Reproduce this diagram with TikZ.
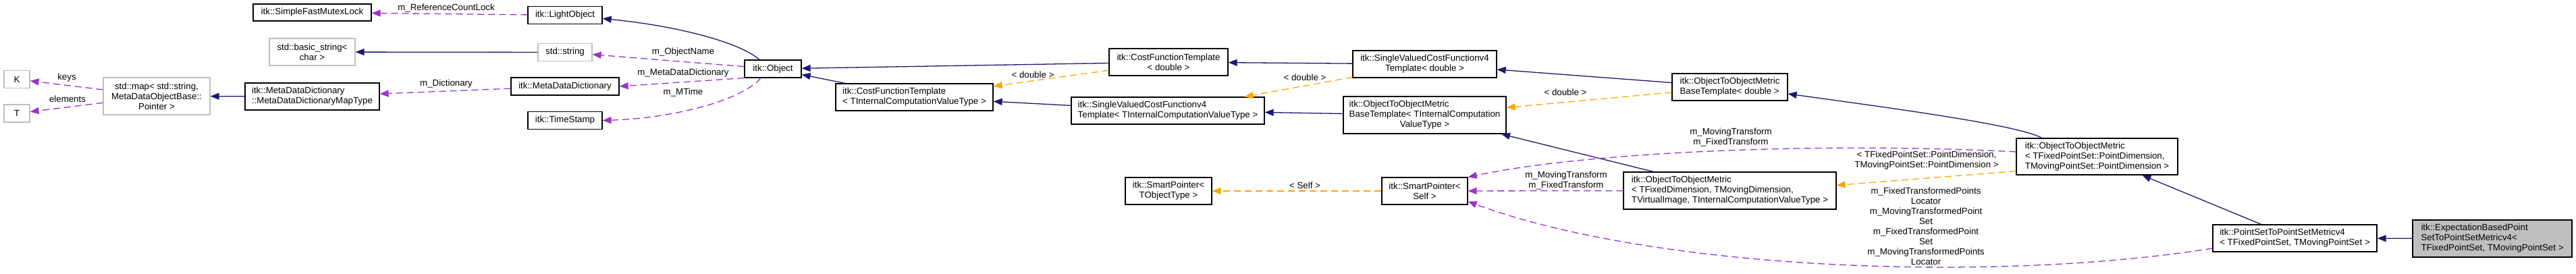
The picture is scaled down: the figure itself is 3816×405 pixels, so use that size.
\documentclass[tikz,border=0pt]{standalone}
\usepackage{fontspec}
\setmainfont{Liberation Sans}
\usetikzlibrary{arrows.meta}
\definecolor{midnightblue}{RGB}{25,25,112}
\definecolor{darkorchid}{RGB}{154,50,205}
\definecolor{doxorange}{RGB}{255,165,0}
\definecolor{boxgray}{RGB}{191,191,191}
\newcommand{\lastc}[1]{\multicolumn{1}{@{}c@{}}{#1}}
\tikzset{
  cls/.style={draw=black, line width=1.2pt, fill=white, inner sep=2pt,
    font=\fontsize{13.3}{15}\selectfont},
  ext/.style={cls, draw=boxgray},
  cur/.style={cls, fill=boxgray},
  lbl/.style={inner sep=0pt, align=center, font=\fontsize{13.3}{15}\selectfont},
  inh/.style={midnightblue, line width=1.3pt, -{Triangle[length=13pt,width=10pt]}},
  member/.style={darkorchid, line width=1.3pt, dash pattern=on 10pt off 6pt,
    -{Triangle[length=13pt,width=10pt]}},
  tpl/.style={doxorange, line width=1.3pt, dash pattern=on 10pt off 6pt,
    -{Triangle[length=13pt,width=10pt]}}
}

\begin{document}
\begin{tikzpicture}[x=1pt,y=-1pt]
    \useasboundingbox (0,0) rectangle (3816,405);
    \begin{scope}[shift={(0,0)}]
        \node[ext, minimum width=38, minimum height=26] (K) at (25,117.5) {K};
        \node[ext, minimum width=38, minimum height=26] (T) at (25,168) {T};
        \node[ext, minimum width=158, minimum height=55, align=center] (stdmap) at (232,142.5)
            {std::map\textless{} std::string,\\MetaDataObjectBase::\\Pointer \textgreater};

        \node[cls, minimum width=175, minimum height=25] (mutexlock) at (462.5,18.5) {itk::SimpleFastMutexLock};
        \node[ext, minimum width=127, minimum height=40, align=center] (basicstring) at (462.5,77)
            {std::basic\_string\textless\\char \textgreater};
        \node[cls, minimum width=199, minimum height=40, align=left] (maptype) at (462.5,143)
            {itk::MetaDataDictionary\\::MetaDataDictionaryMapType};

        \node[cls, minimum width=110, minimum height=26] (lightobject) at (837,22.5) {itk::LightObject};
        \node[ext, minimum width=80, minimum height=26] (stdstring) at (837,77.5) {std::string};
        \node[cls, minimum width=160, minimum height=26] (metadict) at (837,128) {itk::MetaDataDictionary};
        \node[cls, minimum width=110, minimum height=26] (timestamp) at (837,178.5) {itk::TimeStamp};

        \node[cls, minimum width=84, minimum height=26] (object) at (1145,102) {itk::Object};
        \node[cls, minimum width=233, minimum height=40, align=left] (cftint) at (1354.5,144)
            {itk::CostFunctionTemplate\\\textless{} TInternalComputationValueType \textgreater};

        \node[cls, minimum width=176, minimum height=40, align=center] (cftdbl) at (1731,92)
            {itk::CostFunctionTemplate\\\textless{} double \textgreater};
        \node[cls, minimum width=286, minimum height=40, align=left] (svcfint) at (1730,164)
            {itk::SingleValuedCostFunctionv4\\Template\textless{} TInternalComputationValueType \textgreater};
        \node[cls, minimum width=128, minimum height=40, align=center] (sptobj) at (1731,283)
            {itk::SmartPointer\textless\\TObjectType \textgreater};

        \node[cls, minimum width=213, minimum height=40, align=center] (svcfdbl) at (2110.5,95)
            {itk::SingleValuedCostFunctionv4\\Template\textless{} double \textgreater};
        \node[cls, minimum width=241, minimum height=55] (oombtint) at (2110.5,170.5)
            {\begin{tabular}{@{}l@{}}itk::ObjectToObjectMetric\\BaseTemplate\textless{} TInternalComputation\\
            \lastc{ValueType \textgreater}\end{tabular}};
        \node[cls, minimum width=127, minimum height=40, align=center] (spself) at (2110.5,283)
            {itk::SmartPointer\textless\\Self \textgreater};

        \node[cls, minimum width=171, minimum height=40, align=left] (oombtdbl) at (2562.5,129)
            {itk::ObjectToObjectMetric\\BaseTemplate\textless{} double \textgreater};
        \node[cls, minimum width=315, minimum height=55] (oomfd) at (2562.5,282.5)
            {\begin{tabular}{@{}l@{}}itk::ObjectToObjectMetric\\\textless{} TFixedDimension, TMovingDimension,\\
            \lastc{TVirtualImage, TInternalComputationValueType \textgreater}\end{tabular}};

        \node[cls, minimum width=239, minimum height=54] (oomps) at (3106.5,232)
            {\begin{tabular}{@{}l@{}}itk::ObjectToObjectMetric\\\textless{} TFixedPointSet::PointDimension,\\
            \lastc{TMovingPointSet::PointDimension \textgreater}\end{tabular}};
        \node[cls, minimum width=243, minimum height=40, align=left] (psps) at (3399.5,353)
            {itk::PointSetToPointSetMetricv4\\\textless{} TFixedPointSet, TMovingPointSet \textgreater};
        \node[cur, minimum width=236, minimum height=55] (expect) at (3692,353.5)
            {\begin{tabular}{@{}l@{}}itk::ExpectationBasedPoint\\SetToPointSetMetricv4\textless\\
            \lastc{TFixedPointSet, TMovingPointSet \textgreater}\end{tabular}};

        \node[lbl] (lreflock) at (661,12) {m\_ReferenceCountLock};
        \node[lbl] (lkeys) at (99,115) {keys};
        \node[lbl] (lelements) at (100,147) {elements};
        \node[lbl] (ldict) at (661,124) {m\_Dictionary};
        \node[lbl] (lname) at (1012,77) {m\_ObjectName};
        \node[lbl] (lmeta) at (1012,108) {m\_MetaDataDictionary};
        \node[lbl] (lmtime) at (1012,137) {m\_MTime};
        \node[lbl] (ldbla) at (1530,111) {\textless{} double \textgreater};
        \node[lbl] (ldblb) at (1933,115) {\textless{} double \textgreater};
        \node[lbl] (ldblc) at (2319,137) {\textless{} double \textgreater};
        \node[lbl] (lself) at (1933,275) {\textless{} Self \textgreater};
        \node[lbl] (ltrfa) at (2320,267) {m\_MovingTransform\\m\_FixedTransform};
        \node[lbl] (ltrfb) at (2564,203) {m\_MovingTransform\\m\_FixedTransform};
        \node[lbl] (lpdim) at (2854,238) {\textless{} TFixedPointSet::PointDimension,\\TMovingPointSet::PointDimension \textgreater};
        \node[lbl] (lloc) at (2853,335) {m\_FixedTransformedPoints\\Locator\\m\_MovingTransformedPoint\\Set\\
            m\_FixedTransformedPoint\\Set\\m\_MovingTransformedPoints\\Locator};

        \draw[member] (lightobject) -- (mutexlock);
        \draw[inh] (stdstring) -- (basicstring);
        \draw[member] (stdmap) -- (K);
        \draw[member] (stdmap) -- (T);
        \draw[inh] (maptype) -- (stdmap);
        \draw[member] (metadict) -- (maptype);
        \draw[inh] ([xshift=-20pt]object.north) .. controls (1095,62) and (1000,38) .. ([yshift=-5pt]lightobject.east);
        \draw[member] (object) -- (stdstring);
        \draw[member] (object.south west) -- (metadict.east);
        \draw[member] ([xshift=-18pt]object.south) .. controls (1100,148) and (1000,175) .. (timestamp.east);
        \draw[inh] (cftdbl) -- (object);
        \draw[inh] (cftint) -- (object);
        \draw[tpl] (cftdbl) -- (cftint);
        \draw[inh] (svcfint) -- (cftint);
        \draw[inh] (svcfdbl) -- (cftdbl);
        \draw[tpl] (svcfdbl) -- (svcfint);
        \draw[inh] (oombtint) -- (svcfint);
        \draw[inh] (oombtdbl) -- (svcfdbl);
        \draw[tpl] (oombtdbl) -- (oombtint);
        \draw[inh] (oomfd) -- (oombtint);
        \draw[inh] ([xshift=-82pt]oomps.north) .. controls (2990,185) and (2800,160) .. ([yshift=-10pt]oombtdbl.east);
        \draw[tpl] (spself) -- (sptobj);
        \draw[member] (oomfd) -- (spself);
        \draw[member] ([yshift=7pt]oomps.west) .. controls (2700,210) and (2350,225) .. (spself.north east);
        \draw[member] ([yshift=-15pt]psps.west) .. controls (2950,420) and (2450,400) .. ([yshift=5pt]spself.south east);
        \draw[tpl] ([yshift=6pt]oomps.south west) -- ([yshift=8pt]oomfd.east);
        \draw[inh] (psps) -- (oomps);
        \draw[inh] (expect) -- (psps);
    \end{scope}
\end{tikzpicture}
\end{document}
